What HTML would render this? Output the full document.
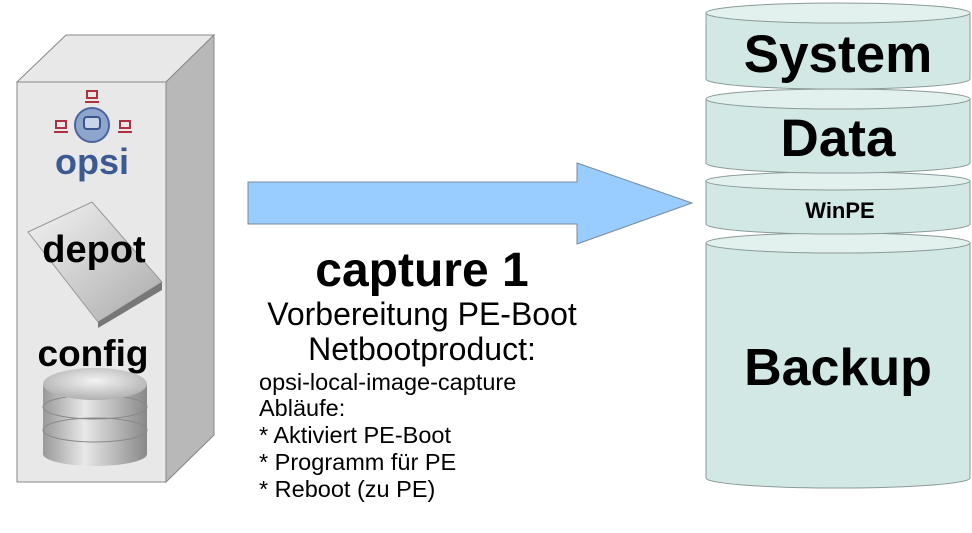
<!DOCTYPE html>
<html><head><meta charset="utf-8"><style>
html,body{margin:0;padding:0;background:#fff;}
svg{display:block;font-family:"Liberation Sans",sans-serif;}
</style></head><body>
<svg width="972" height="533" viewBox="0 0 972 533" xmlns="http://www.w3.org/2000/svg">
<defs>
<linearGradient id="disk" x1="0" y1="0" x2="1" y2="0">
<stop offset="0" stop-color="#999"/><stop offset="0.4" stop-color="#e8e8e8"/><stop offset="1" stop-color="#888"/>
</linearGradient>
<radialGradient id="top" cx="0.5" cy="0.4" r="0.6"><stop offset="0" stop-color="#f4f4f4"/><stop offset="1" stop-color="#b0b0b0"/></radialGradient>
<linearGradient id="hdd" x1="0" y1="0" x2="1" y2="1"><stop offset="0" stop-color="#f4f4f4"/><stop offset="1" stop-color="#aaa"/></linearGradient>
</defs>
<polygon points="17,82 66,35 214,35 166,82" fill="#e8e8e8" stroke="#888" stroke-width="1"/>
<polygon points="166,82 214,35 214,435 166,482" fill="#b8b8b8" stroke="#888" stroke-width="1"/>
<rect x="17" y="82" width="149" height="400" fill="#e8e8e8" stroke="#888" stroke-width="1"/>
<g fill="none" stroke="#b03040" stroke-width="2">
<rect x="87" y="91" width="10" height="7"/><line x1="85" y1="102" x2="99" y2="102"/>
<rect x="56" y="121" width="10" height="7"/><line x1="54" y1="132" x2="68" y2="132"/>
<rect x="120" y="121" width="10" height="7"/><line x1="118" y1="132" x2="132" y2="132"/>
</g>
<circle cx="92" cy="125" r="17" fill="#8fa6cc" stroke="#4a66a0" stroke-width="2"/>
<rect x="84" y="117" width="16" height="12" rx="3" fill="#c8d4ea" stroke="#3a5690" stroke-width="2"/>
<text x="92" y="174" font-size="36" font-weight="bold" fill="#3c5a92" text-anchor="middle">opsi</text>
<polygon points="28,232 92,202 162,282 98,322" fill="url(#hdd)" stroke="#999"/>
<polygon points="98,322 162,282 162,290 98,328" fill="#777"/>
<text x="94" y="262" font-size="38" font-weight="bold" fill="#000" text-anchor="middle">depot</text>
<text x="93" y="366" font-size="37" font-weight="bold" fill="#000" text-anchor="middle">config</text>
<rect x="43" y="384" width="104" height="70" fill="url(#disk)"/>
<ellipse cx="95" cy="454" rx="52" ry="12" fill="url(#disk)"/>
<ellipse cx="95" cy="407" rx="52" ry="12" fill="none" stroke="#888" stroke-width="1"/>
<ellipse cx="95" cy="430" rx="52" ry="12" fill="none" stroke="#888" stroke-width="1"/>
<ellipse cx="95" cy="384" rx="52" ry="16" fill="url(#top)"/>
<polygon points="248,182 577,182 577,163 692,203 577,244 577,224 248,224" fill="#99ccff" stroke="#7a8a9a" stroke-width="1"/>
<text x="422" y="286" font-size="48" font-weight="bold" text-anchor="middle">capture 1</text>
<text x="422" y="325" font-size="32" text-anchor="middle">Vorbereitung PE-Boot</text>
<text x="422" y="360" font-size="32" text-anchor="middle">Netbootproduct:</text>
<g font-size="23.5">
<text x="259" y="390">opsi-local-image-capture</text>
<text x="259" y="416">Abläufe:</text>
<text x="259" y="443">* Aktiviert PE-Boot</text>
<text x="259" y="470">* Programm für PE</text>
<text x="259" y="497">* Reboot (zu PE)</text>
</g>
<g stroke="#8a9a98" stroke-width="1">
<path d="M706,243 L706,478 A132,10 0 0 0 970,478 L970,243 Z" fill="#d2e8e5"/>
<ellipse cx="838" cy="243" rx="132" ry="10" fill="#e2f0ee"/>
<path d="M706,181 L706,224 A132,10 0 0 0 970,224 L970,181 Z" fill="#d2e8e5"/>
<ellipse cx="838" cy="181" rx="132" ry="9" fill="#e2f0ee"/>
<path d="M706,99 L706,163 A132,10 0 0 0 970,163 L970,99 Z" fill="#d2e8e5"/>
<ellipse cx="838" cy="99" rx="132" ry="10" fill="#e2f0ee"/>
<path d="M706,13 L706,79 A132,10 0 0 0 970,79 L970,13 Z" fill="#d2e8e5"/>
<ellipse cx="838" cy="13" rx="132" ry="10" fill="#e2f0ee"/>
</g>
<text x="838" y="72" font-size="53" font-weight="bold" text-anchor="middle">System</text>
<text x="838" y="156" font-size="53" font-weight="bold" text-anchor="middle">Data</text>
<text x="840" y="218" font-size="22" font-weight="bold" text-anchor="middle">WinPE</text>
<text x="838" y="385" font-size="52" font-weight="bold" text-anchor="middle">Backup</text>
</svg>
</body></html>
